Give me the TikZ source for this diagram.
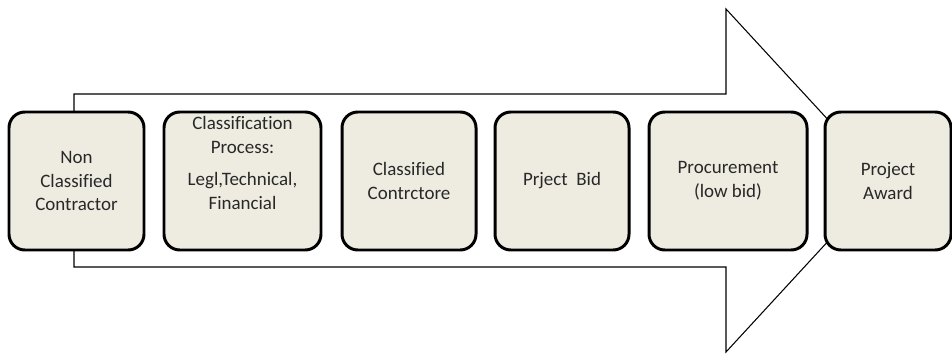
\documentclass[tikz,border=0pt]{standalone}
\usepackage{fontspec}
\setmainfont[Ligatures=NoCommon]{Carlito}
\usetikzlibrary{positioning}
\definecolor{c1}{RGB}{238,236,225}
\definecolor{c2}{RGB}{40,40,40}
\tikzset{
  stage_box/.style = {rectangle, rounded corners=9pt, draw=black, fill=c1, line width=1.7pt,
    minimum height=138*0.02cm, inner sep=0pt, align=center, text=c2,
    font=\fontsize{10.8}{13.6}\selectfont},
  arrow_body/.style = {draw=black, line width=0.6pt, fill=white},
}

\begin{document}
\begin{tikzpicture}[x=0.02cm, y=-0.02cm]
\useasboundingbox (0,0) rectangle (952,354);

% big arrow behind the stages
\draw[arrow_body] (74,94) -- (726,94) -- (726,9) -- (884,180.5) -- (726,352) -- (726,267) -- (74,267) -- cycle;

\node[stage_box, minimum width=135*0.02cm] (s1) at (76.5,181) {Non\\Classified\\Contractor};

\node[stage_box, minimum width=157*0.02cm] (s2) at (242.5,181) {};
\node[align=center, text=c2, font=\fontsize{10.8}{13.6}\selectfont] (s2t) at (242.5,163) {Classification\\Process:\\[5pt]Legl,Technical,\\Financial};

\node[stage_box, minimum width=134*0.02cm] (s3) at (409,181) {Classified\\Contrctore};

\node[stage_box, minimum width=134*0.02cm] (s4) at (562,181) {Prject\ \ Bid};

\node[stage_box, minimum width=158*0.02cm] (s5) at (728,181) {Procurement\\(low bid)};

\node[stage_box, minimum width=126*0.02cm] (s6) at (888,181) {Project\\Award};

\end{tikzpicture}
\end{document}
